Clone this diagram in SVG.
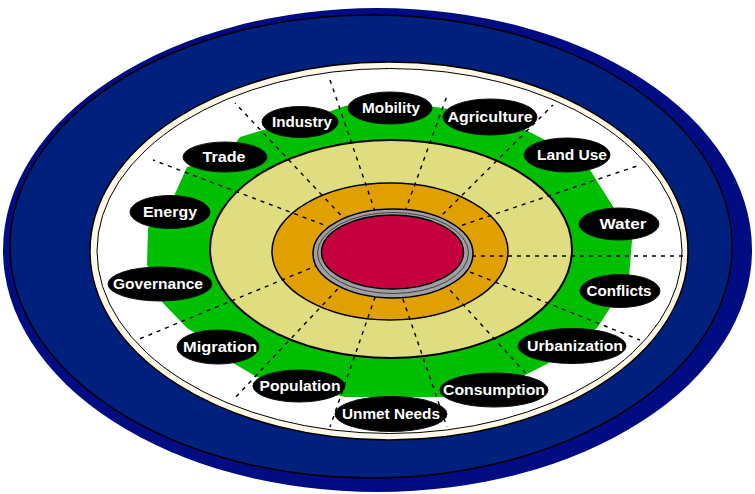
<svg xmlns="http://www.w3.org/2000/svg" width="755" height="494" viewBox="0 0 755 494">
<style>
.lbl ellipse{fill:#000;stroke:#111;stroke-width:1}
.lbl text{fill:#fff;font-family:"Liberation Sans",Arial,sans-serif;font-weight:bold;font-size:15px;text-anchor:middle}
.dash{stroke:#000;stroke-width:1.4;stroke-dasharray:4 5;fill:none}
</style>
<rect width="755" height="494" fill="#fff"/>
<g id="rings">
<ellipse cx="377.5" cy="250" rx="374.5" ry="242" fill="#000C82"/>
<ellipse cx="371" cy="246.5" rx="361" ry="231.5" fill="#00207E" stroke="#000" stroke-width="1.5"/>
<ellipse cx="389" cy="251" rx="299" ry="189" fill="#FFF8E6" stroke="#000" stroke-width="1.5"/>
<ellipse cx="389.5" cy="251" rx="292.5" ry="182.5" fill="#fff" stroke="#000" stroke-width="1"/>
<polygon fill="#00BE00" points="345,106 390,100 435,107 490,115 522,128 547,141 567,155 590,170 614,208 620,224 632,240 629,278 620,291 610,308 597,328 572,346 547,364 523,376 494,390 442,397 345,397 299,386 257,377 233,363 218,347 187,328 162,302 159,284 147,265 148,228 170,212 174,196 187,167 225,157 240,137 263,130 300,122"/>
<ellipse cx="391" cy="249" rx="181" ry="109" fill="#E0DC80" stroke="#000" stroke-width="2"/>
<ellipse cx="390" cy="251.5" rx="118" ry="68.5" fill="#E0A000" stroke="#000" stroke-width="1.5"/>
</g>
<g id="connectors">
<line class="dash" x1="353" y1="228" x2="235" y2="103"/>
<line class="dash" x1="378" y1="220" x2="330" y2="80"/>
<line class="dash" x1="402" y1="220" x2="448" y2="93"/>
<line class="dash" x1="430" y1="227" x2="553" y2="105"/>
<line class="dash" x1="445" y1="231" x2="640" y2="165"/>
<line class="dash" x1="445" y1="256" x2="687" y2="256"/>
<line class="dash" x1="445" y1="262" x2="640" y2="340"/>
<line class="dash" x1="438" y1="277" x2="530" y2="378"/>
<line class="dash" x1="397" y1="282" x2="447" y2="427"/>
<line class="dash" x1="381" y1="280" x2="330" y2="427"/>
<line class="dash" x1="350" y1="276" x2="233" y2="400"/>
<line class="dash" x1="335" y1="258" x2="137" y2="340"/>
<line class="dash" x1="340" y1="231" x2="153" y2="160"/>
</g>
<g id="core">
<ellipse cx="393" cy="253.5" rx="80" ry="44.5" fill="#A0A0A4" stroke="#000" stroke-width="1.5"/>
<ellipse cx="393" cy="253" rx="75.5" ry="40.5" fill="none" stroke="#404040" stroke-width="1"/>
<ellipse cx="392.5" cy="252" rx="71" ry="37" fill="#C4003E" stroke="#000" stroke-width="1.5"/>
</g>
<g id="n-mobility" class="lbl"><ellipse cx="390" cy="108" rx="42" ry="16"/><text x="391" y="113" textLength="58" lengthAdjust="spacingAndGlyphs">Mobility</text></g>
<g id="n-industry" class="lbl"><ellipse cx="300" cy="122" rx="38" ry="15.5"/><text x="302" y="127" textLength="60" lengthAdjust="spacingAndGlyphs">Industry</text></g>
<g id="n-agriculture" class="lbl"><ellipse cx="490" cy="117" rx="47" ry="18"/><text x="490" y="122" textLength="85" lengthAdjust="spacingAndGlyphs">Agriculture</text></g>
<g id="n-landuse" class="lbl"><ellipse cx="567" cy="155" rx="43" ry="17"/><text x="572" y="160" textLength="70" lengthAdjust="spacingAndGlyphs">Land Use</text></g>
<g id="n-water" class="lbl"><ellipse cx="619" cy="224" rx="40" ry="16"/><text x="623" y="229" textLength="47" lengthAdjust="spacingAndGlyphs">Water</text></g>
<g id="n-conflicts" class="lbl"><ellipse cx="620" cy="291" rx="40" ry="16.5"/><text x="619" y="296" textLength="65" lengthAdjust="spacingAndGlyphs">Conflicts</text></g>
<g id="n-urbanization" class="lbl"><ellipse cx="572" cy="346" rx="54" ry="17.5"/><text x="575" y="351" textLength="96" lengthAdjust="spacingAndGlyphs">Urbanization</text></g>
<g id="n-consumption" class="lbl"><ellipse cx="494" cy="390" rx="54" ry="17"/><text x="494" y="395" textLength="102" lengthAdjust="spacingAndGlyphs">Consumption</text></g>
<g id="n-unmetneeds" class="lbl"><ellipse cx="391" cy="414" rx="56" ry="17.5"/><text x="391" y="419" textLength="98" lengthAdjust="spacingAndGlyphs">Unmet Needs</text></g>
<g id="n-population" class="lbl"><ellipse cx="299" cy="386" rx="46" ry="16"/><text x="300" y="391" textLength="81" lengthAdjust="spacingAndGlyphs">Population</text></g>
<g id="n-migration" class="lbl"><ellipse cx="218" cy="347" rx="41" ry="17"/><text x="220" y="352" textLength="74" lengthAdjust="spacingAndGlyphs">Migration</text></g>
<g id="n-governance" class="lbl"><ellipse cx="160" cy="284" rx="52" ry="17"/><text x="158" y="289" textLength="90" lengthAdjust="spacingAndGlyphs">Governance</text></g>
<g id="n-energy" class="lbl"><ellipse cx="170" cy="212" rx="40" ry="16.5"/><text x="170" y="217" textLength="54" lengthAdjust="spacingAndGlyphs">Energy</text></g>
<g id="n-trade" class="lbl"><ellipse cx="225" cy="157" rx="42" ry="15"/><text x="224" y="162" textLength="43" lengthAdjust="spacingAndGlyphs">Trade</text></g>
</svg>
